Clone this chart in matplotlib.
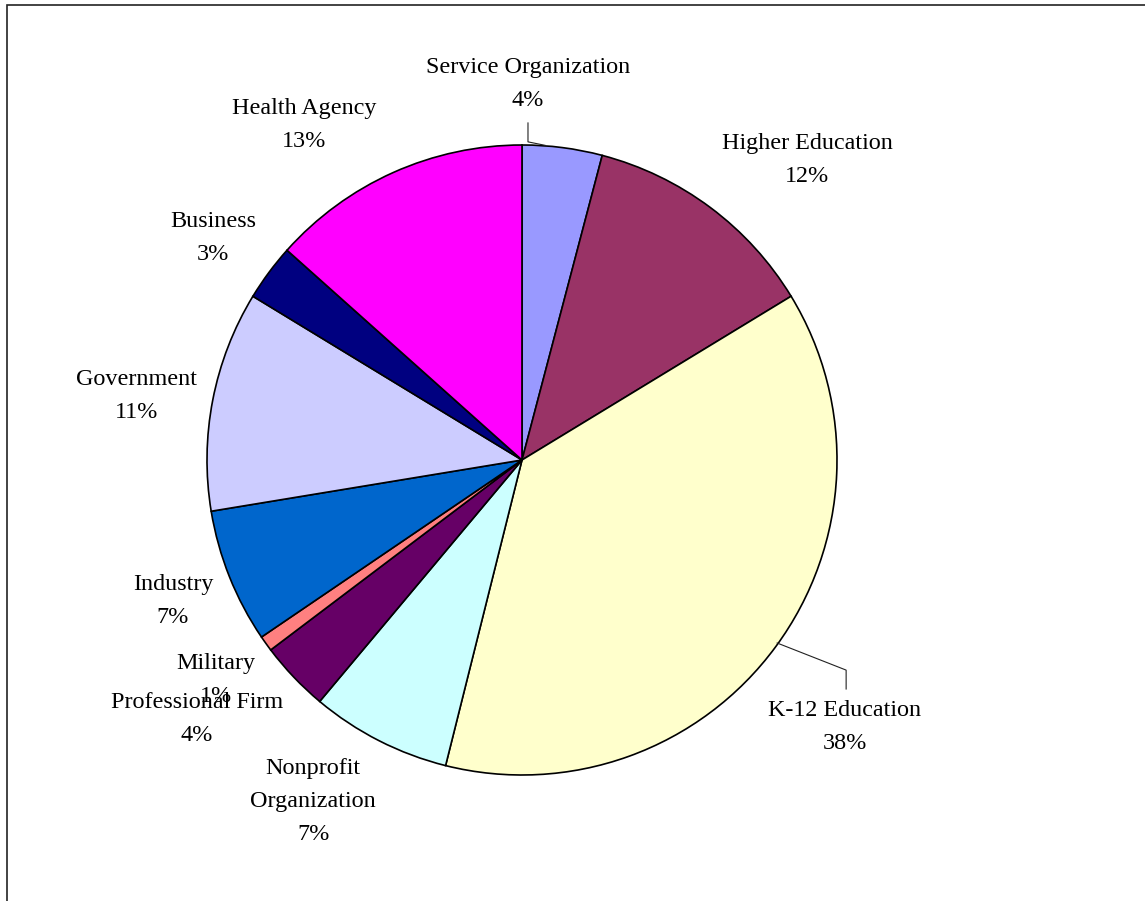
import matplotlib
matplotlib.use("Agg")
import matplotlib.pyplot as plt
from matplotlib.patches import Rectangle

# Share of respondents by organization type (percent)
categories = ["Service Organization", "Higher Education", "K-12 Education",
              "Nonprofit\nOrganization", "Professional Firm", "Military",
              "Industry", "Government", "Business", "Health Agency"]
shares = [4.1, 12.2, 37.6, 7.2, 3.6, 0.8, 6.9, 11.3, 2.9, 13.4]
colors = ["#9999FF", "#993366", "#FFFFCC", "#CCFFFF", "#660066",
          "#FF8080", "#0066CC", "#CCCCFF", "#000080", "#FF00FF"]

# label block centres, in pie-radius units
label_xy = [(0.019, 1.194), (0.905, 0.952), (1.025, -0.848), (-0.663, -1.083),
            (-1.033, -0.822), (-0.973, -0.698), (-1.108, -0.448),
            (-1.225, 0.203), (-0.981, 0.705), (-0.692, 1.063)]
# leader lines for the labels that sit away from their slice
leaders = {0: [(0.019, 1.070), (0.019, 1.010), (0.073, 0.999)],
           2: [(0.810, -0.581), (1.029, -0.667), (1.029, -0.727)]}

plt.rcParams["font.family"] = ["Liberation Serif", "DejaVu Serif"]

fig = plt.figure(figsize=(11.45, 9.01), dpi=100)
ax = fig.add_axes([0, 0, 1, 1])
R = 315.0
cx, cy = 522.0, 460.0

ax.pie(shares, colors=colors, startangle=90, counterclock=False, radius=1.0,
       wedgeprops=dict(edgecolor="black", linewidth=1.2))

# pie() resets limits and aspect; put the centre back where it belongs
ax.set_aspect("auto")
ax.set_xlim(-cx / R, (1145 - cx) / R)
ax.set_ylim(-(901 - cy) / R, cy / R)
ax.axis("off")

for i, (name, val) in enumerate(zip(categories, shares)):
    x, y = label_xy[i]
    ax.text(x, y, f"{name}\n{val:.0f}%", ha="center", va="center",
            fontsize=17.4, linespacing=1.75, color="black")

for pts in leaders.values():
    xs, ys = zip(*pts)
    ax.plot(xs, ys, color="#222222", linewidth=0.8)

# outer chart frame (clipped at right and bottom)
fig.patches.append(Rectangle((6.5 / 1145, -0.1), 1.2, 1.1 - 4.5 / 901,
                             transform=fig.transFigure, fill=False,
                             edgecolor="#222222", linewidth=1.2))

fig.savefig("out.png", dpi=100)
